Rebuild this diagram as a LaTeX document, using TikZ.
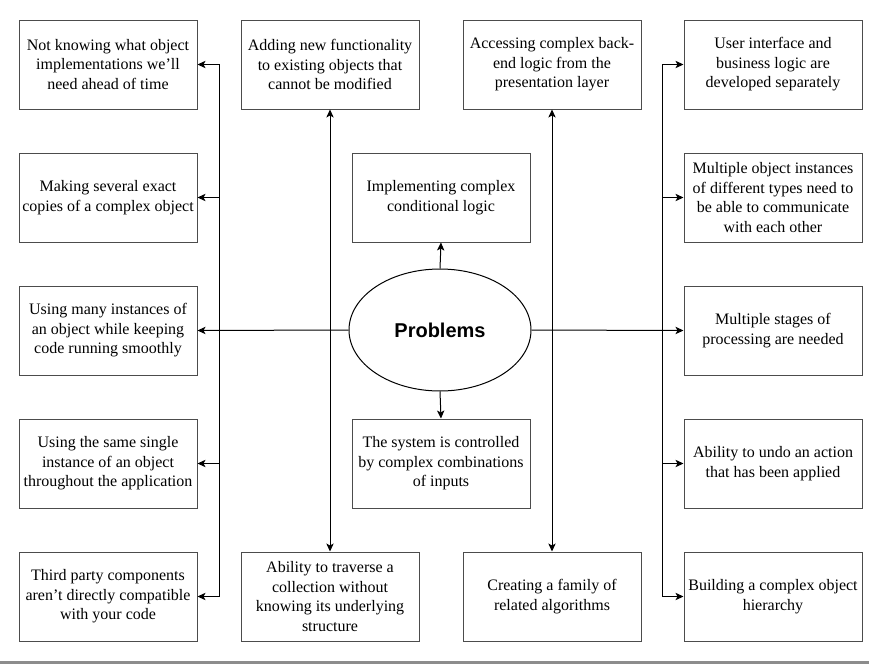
\documentclass[tikz,border=0pt]{standalone}
\usepackage{fontspec}
\setmainfont{Liberation Serif}
\newfontfamily\arialfont{Liberation Sans}
\usetikzlibrary{shapes.geometric,arrows.meta}
\begin{document}
\begin{tikzpicture}[x=0.75pt,y=-0.75pt,
  pbox/.style={draw=black!70,line width=0.75pt,minimum width=133.5pt,minimum height=66.75pt,inner sep=0pt,align=center,font=\fontsize{12}{14.6}\selectfont},
  arr/.style={draw=black,line width=0.75pt,-{Stealth[length=6pt,width=5.5pt,inset=1.5pt]}},
  arrb/.style={draw=black,line width=0.75pt,{Stealth[length=6pt,width=5.5pt,inset=1.5pt]}-{Stealth[length=6pt,width=5.5pt,inset=1.5pt]}}]
\useasboundingbox (0,0) rectangle (869,664);
\fill[black!45] (0,661) rectangle (869,664);
% left column
\node[pbox] (L1) at (108,64.5) {Not knowing what object\\implementations we’ll\\need ahead of time};
\node[pbox] (L2) at (108,197.5) {Making several exact\\copies of a complex object};
\node[pbox] (L3) at (108,330.5) {Using many instances of\\an object while keeping\\code running smoothly};
\node[pbox] (L4) at (108,463.5) {Using the same single\\instance of an object\\throughout the application};
\node[pbox] (L5) at (108,596.5) {Third party components\\aren’t directly compatible\\with your code};
% second column
\node[pbox] (T2) at (330,64.5) {Adding new functionality\\to existing objects that\\cannot be modified};
\node[pbox] (B2) at (330,596.5) {Ability to traverse a\\collection without\\knowing its underlying\\structure};
% centre
\node[pbox] (C1) at (441,197.5) {Implementing complex\\conditional logic};
\node[pbox] (C2) at (441,463.5) {The system is controlled\\by complex combinations\\of inputs};
% third column
\node[pbox] (T3) at (552,64.5) {Accessing complex back-\\end logic from the\\presentation layer};
\node[pbox] (B3) at (552,596.5) {Creating a family of\\related algorithms};
% right column
\node[pbox] (R1) at (773,64.5) {User interface and\\business logic are\\developed separately};
\node[pbox] (R2) at (773,197.5) {Multiple object instances\\of different types need to\\be able to communicate\\with each other};
\node[pbox] (R3) at (773,330.5) {Multiple stages of\\processing are needed};
\node[pbox] (R4) at (773,463.5) {Ability to undo an action\\that has been applied};
\node[pbox] (R5) at (773,596.5) {Building a complex object\\hierarchy};
% ellipse
\node[draw=black,line width=0.75pt,ellipse,minimum width=136.5pt,minimum height=91.5pt,inner sep=0pt,font=\arialfont\fontsize{15}{18}\selectfont\bfseries] (P) at (440,330) {Problems};
\coordinate (jl) at (219,330);
\coordinate (jr) at (662,330);
% connectors
\draw[arr] (P.north) -- (C1.south);
\draw[arr] (P.south) -- (C2.north);
\draw[arr] (P.west) -- (L3.east);
\draw[arr] (P.east) -- (R3.west);
\draw[arr] (jl) |- (L1.east);
\draw[arr] (jl) |- (L2.east);
\draw[arr] (jl) |- (L4.east);
\draw[arr] (jl) |- (L5.east);
\draw[arr] (jr) |- (R1.west);
\draw[arr] (jr) |- (R2.west);
\draw[arr] (jr) |- (R4.west);
\draw[arr] (jr) |- (R5.west);
\draw[arrb] (T2.south) -- (B2.north);
\draw[arrb] (T3.south) -- (B3.north);
\end{tikzpicture}
\end{document}
